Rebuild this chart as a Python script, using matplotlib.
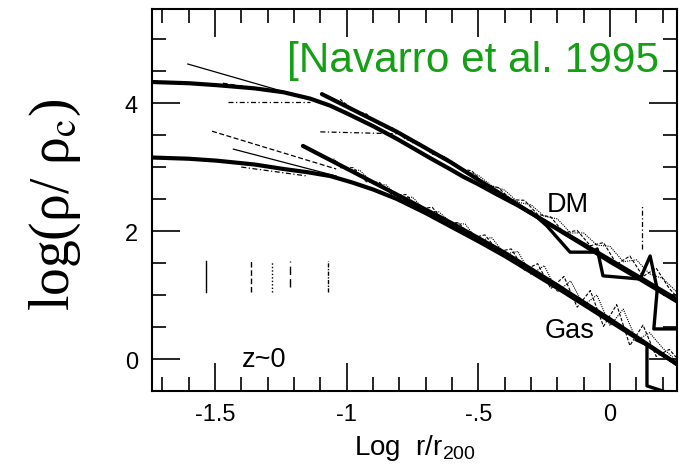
import matplotlib
matplotlib.use("Agg")
import matplotlib.pyplot as plt
from matplotlib.ticker import MultipleLocator, FixedLocator, FixedFormatter

plt.rcParams['font.family'] = ['Liberation Sans', 'DejaVu Sans']
plt.rcParams['mathtext.fontset'] = 'custom'
plt.rcParams['mathtext.rm'] = 'Liberation Sans'
plt.rcParams['mathtext.it'] = 'Liberation Sans'

# ---------------- data ----------------
# DM: smooth fit curve (thick)
dm_fit_x = [-1.747, -1.60, -1.494, -1.35, -1.241, -1.139, -1.063, -1.0, -0.9, -0.809, -0.75, -0.683,
            -0.6, -0.558, -0.5, -0.429, -0.35, -0.3, -0.2, -0.1, 0.0, 0.1, 0.254]
dm_fit_y = [4.33, 4.31, 4.28, 4.23, 4.17, 4.07, 3.96, 3.84, 3.64, 3.44, 3.30, 3.14,
            2.95, 2.85, 2.73, 2.57, 2.40, 2.28, 2.03, 1.78, 1.52, 1.28, 0.90]
# DM: thick power law
dm_line_x = [-1.094, -0.809, -0.607, -0.304, 0.254]
dm_line_y = [4.14, 3.55, 3.08, 2.29, 0.93]
# DM: stepped low-resolution profile (thick)
dm_step_x = [-0.30, -0.24, -0.152, -0.064, -0.049, -0.027, 0.114, 0.152, 0.179, 0.166, 0.254]
dm_step_y = [2.30, 2.08, 1.67, 1.67, 1.72, 1.30, 1.25, 1.61, 1.09, 0.47, 0.47]
# DM: thin solid / dashed / dash-dot inner profiles
dm_thin_x = [-1.603, -1.139]
dm_thin_y = [4.61, 4.06]
dm_dash_x = [-1.47, -1.20]
dm_dash_y = [4.31, 4.14]
dm_dd1_x = [-1.45, -1.14]
dm_dd1_y = [4.01, 4.01]
dm_dd2_x = [-1.10, -0.81]
dm_dd2_y = [3.55, 3.52]
dm_spike_x = [0.122, 0.122]
dm_spike_y = [1.72, 2.40]
# DM noisy simulation profiles
dm_n1_x = [-1.05, -1.0, -0.95, -0.9, -0.85, -0.8, -0.75, -0.7, -0.65, -0.6, -0.55, -0.5, -0.45, -0.4,
           -0.35, -0.3, -0.25, -0.2, -0.15, -0.1, -0.05, 0.0, 0.05, 0.1, 0.15, 0.2, 0.25]
dm_n1_y = [4.07, 3.98, 3.82, 3.76, 3.61, 3.54, 3.38, 3.32, 3.16, 3.09, 2.94, 2.87, 2.71, 2.64,
           2.45, 2.41, 2.23, 2.19, 1.97, 1.97, 1.78, 1.76, 1.52, 1.55, 1.33, 1.26, 1.06]
dm_n2_x = [-1.025, -0.975, -0.925, -0.875, -0.825, -0.775, -0.725, -0.675, -0.625, -0.575, -0.525,
           -0.475, -0.425, -0.375, -0.325, -0.275, -0.225, -0.175, -0.125, -0.075, -0.025, 0.025,
           0.075, 0.125, 0.175, 0.225, 0.25]
dm_n2_y = [4.06, 3.88, 3.83, 3.66, 3.61, 3.43, 3.38, 3.20, 3.16, 2.98, 2.94, 2.72, 2.68, 2.49, 2.48,
           2.26, 2.22, 1.97, 2.01, 1.77, 1.82, 1.48, 1.61, 1.29, 1.42, 1.10, 0.99]

# Gas: smooth fit curve (thick)
gas_fit_x = [-1.747, -1.60, -1.494, -1.35, -1.24, -1.15, -1.063, -0.98, -0.90, -0.809, -0.70,
             -0.60, -0.50, -0.40, -0.30, -0.20, -0.10, 0.0, 0.10, 0.254]
gas_fit_y = [3.15, 3.13, 3.10, 3.04, 2.97, 2.92, 2.86, 2.76, 2.65, 2.50, 2.28,
             2.06, 1.84, 1.61, 1.36, 1.11, 0.85, 0.59, 0.33, -0.08]
# Gas: thick power law
gas_line_x = [-1.166, -0.80, -0.60, -0.40, -0.20, 0.0, 0.254]
gas_line_y = [3.33, 2.55, 2.12, 1.66, 1.15, 0.62, -0.08]
# Gas: stepped low-resolution profile (thick)
gas_step_x = [0.10, 0.14, 0.14, 0.20]
gas_step_y = [0.30, 0.22, -0.42, -0.50]
# Gas: thin inner profiles
gas_thin_x = [-1.43, -1.04]
gas_thin_y = [3.28, 2.86]
gas_dash_x = [-1.511, -1.04]
gas_dash_y = [3.56, 2.97]
gas_dd_x = [-1.40, -1.15]
gas_dd_y = [3.00, 2.86]
# Gas noisy simulation profiles
gas_n1_x = dm_n1_x
gas_n1_y = [3.13, 2.95, 2.95, 2.74, 2.72, 2.51, 2.53, 2.31, 2.30, 2.12, 2.11, 1.84, 1.90, 1.64,
            1.68, 1.32, 1.46, 1.05, 1.22, 0.84, 1.00, 0.52, 0.78, 0.29, 0.41, 0.17, -0.02]
gas_n2_x = dm_n2_x
gas_n2_y = [2.99, 2.99, 2.77, 2.76, 2.55, 2.57, 2.35, 2.37, 2.13, 2.13, 1.89, 1.94, 1.68, 1.72, 1.39,
            1.49, 1.10, 1.29, 0.81, 1.07, 0.51, 0.85, 0.21, 0.53, 0.04, 0.15, 0.03]

# softening-length markers
soft_x = [-1.534, -1.364, -1.285, -1.215, -1.07]
soft_lo = [1.05, 1.05, 1.05, 1.13, 1.05]
soft_hi = [1.53, 1.53, 1.53, 1.53, 1.53]
soft_styles = ['-', (0, (4, 2)), (0, (1, 1.5)), (0, (6, 3)), (0, (3, 1, 1, 1))]

xticks = [-1.5, -1.0, -0.5, 0.0]
xticklabels = ['-1.5', '-1', '-.5', '0']
yticks = [0, 2, 4]
yticklabels = ['0', '2', '4']

# ---------------- figure ----------------
fig = plt.figure(figsize=(6.89, 4.77), dpi=100)
ax = fig.add_axes([152/689, 1 - 392/477, (677-152)/689, (392-10)/477])
ax.set_xlim(-1.739, 0.254)
ax.set_ylim(-0.5, 5.47)

k = 'black'
thick = 3.0
ax.plot(dm_fit_x, dm_fit_y, color=k, lw=thick, solid_capstyle='round', solid_joinstyle='round')
ax.plot(dm_line_x, dm_line_y, color=k, lw=thick, solid_capstyle='round', solid_joinstyle='round')
ax.plot(dm_step_x, dm_step_y, color=k, lw=2.4)
ax.plot(dm_thin_x, dm_thin_y, color=k, lw=0.9)
ax.plot(dm_dash_x, dm_dash_y, color=k, lw=0.9, ls=(0, (4, 2)))
ax.plot(dm_dd1_x, dm_dd1_y, color=k, lw=0.9, ls=(0, (4, 2, 1, 2)))
ax.plot(dm_dd2_x, dm_dd2_y, color=k, lw=0.9, ls=(0, (4, 2, 1, 2)))
ax.plot(dm_spike_x, dm_spike_y, color=k, lw=0.9, ls=(0, (4, 2, 1, 2)))
ax.plot(dm_n1_x, dm_n1_y, color=k, lw=0.8, ls=(0, (1, 1)))
ax.plot(dm_n2_x, dm_n2_y, color=k, lw=0.8, ls=(0, (3, 1.5)))

ax.plot(gas_fit_x, gas_fit_y, color=k, lw=thick, solid_capstyle='round', solid_joinstyle='round')
ax.plot(gas_line_x, gas_line_y, color=k, lw=thick, solid_capstyle='round', solid_joinstyle='round')
ax.plot(gas_step_x, gas_step_y, color=k, lw=2.4)
ax.plot(gas_thin_x, gas_thin_y, color=k, lw=0.9)
ax.plot(gas_dash_x, gas_dash_y, color=k, lw=0.9, ls=(0, (4, 2)))
ax.plot(gas_dd_x, gas_dd_y, color=k, lw=0.9, ls=(0, (4, 2, 1, 2)))
ax.plot(gas_n1_x, gas_n1_y, color=k, lw=0.8, ls=(0, (1, 1)))
ax.plot(gas_n2_x, gas_n2_y, color=k, lw=0.8, ls=(0, (3, 1.5)))

for sx, lo, hi, st in zip(soft_x, soft_lo, soft_hi, soft_styles):
    ax.plot([sx, sx], [lo, hi], color=k, lw=1.0, ls=st)

# text annotations
ax.text(0.186, 4.50, '[Navarro et al. 1995', color='#14a014', fontsize=30.5, ha='right', va='baseline')
ax.text(-0.239, 2.31, 'DM', fontsize=19.5, ha='left', va='baseline')
ax.text(-0.247, 0.34, 'Gas', fontsize=19.5, ha='left', va='baseline')
ax.text(-1.397, -0.11, 'z~0', fontsize=19.5, ha='left', va='baseline')

# axes styling
for sp in ax.spines.values():
    sp.set_linewidth(1.5)
ax.xaxis.set_major_locator(FixedLocator(xticks))
ax.xaxis.set_major_formatter(FixedFormatter(xticklabels))
ax.xaxis.set_minor_locator(MultipleLocator(0.1))
ax.yaxis.set_major_locator(FixedLocator(yticks))
ax.yaxis.set_major_formatter(FixedFormatter(yticklabels))
ax.yaxis.set_minor_locator(MultipleLocator(0.5))
ax.tick_params(which='both', direction='in', top=True, right=True, width=1.2, labelsize=17)
ax.tick_params(which='major', length=20)
ax.tick_params(which='minor', length=10)
ax.tick_params(axis='x', pad=9)
ax.tick_params(axis='y', pad=10)

ax.set_xlabel('Log  r/r$_{\\rm 200}$', fontsize=20, labelpad=5)
fig.text(55/689, 1 - 205/477, 'log(ρ/ ρ$_{\\rm c}$)', rotation=90, ha='center', va='center',
         fontsize=40, family='Liberation Serif', math_fontfamily='stix')

fig.savefig('out.png', dpi=100)
